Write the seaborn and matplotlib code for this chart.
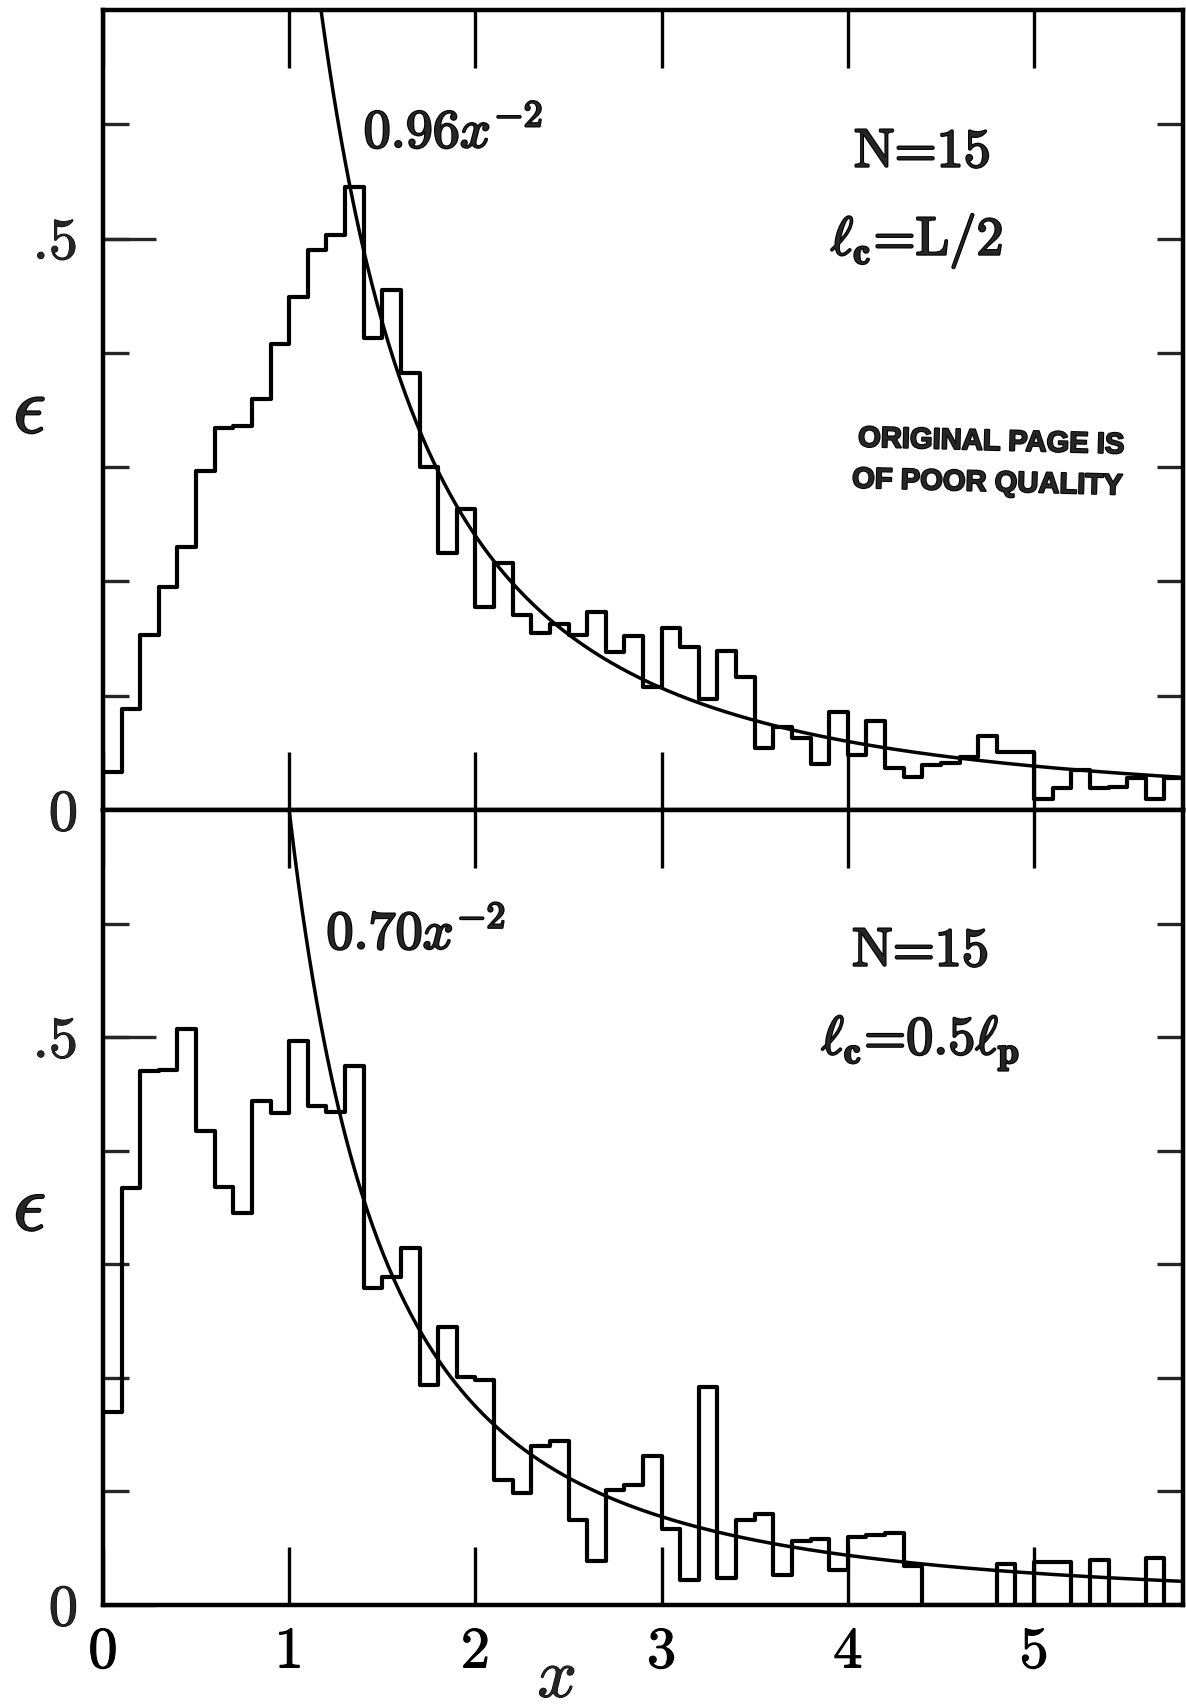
import numpy as np
import pandas as pd
import matplotlib
matplotlib.use("Agg")
import matplotlib.pyplot as plt
import matplotlib.patheffects as pe
import seaborn as sns

# ---------------- data ----------------
bin_width = 0.1
bin_lefts = [round(i * bin_width, 1) for i in range(58)]   # 0.0 ... 5.7

eps_top = [0.033, 0.088, 0.153, 0.195, 0.230, 0.297, 0.334, 0.336, 0.360, 0.408,
           0.449, 0.490, 0.503, 0.545, 0.413, 0.455, 0.382, 0.300, 0.225, 0.263,
           0.178, 0.216, 0.171, 0.155, 0.163, 0.153, 0.173, 0.138, 0.152, 0.108,
           0.159, 0.143, 0.097, 0.139, 0.116, 0.054, 0.073, 0.063, 0.040, 0.086,
           0.048, 0.078, 0.037, 0.029, 0.039, 0.041, 0.046, 0.065, 0.051, 0.051,
           0.010, 0.019, 0.035, 0.019, 0.020, 0.028, 0.010, 0.028]

eps_bottom = [0.170, 0.367, 0.470, 0.471, 0.507, 0.417, 0.368, 0.345, 0.444, 0.433,
              0.497, 0.439, 0.434, 0.475, 0.279, 0.289, 0.314, 0.194, 0.245, 0.201,
              0.198, 0.110, 0.099, 0.140, 0.144, 0.075, 0.039, 0.101, 0.106, 0.131,
              0.067, 0.022, 0.192, 0.024, 0.075, 0.080, 0.026, 0.056, 0.058, 0.031,
              0.060, 0.062, 0.063, 0.034, 0.0, 0.0, 0.0, 0.0, 0.036, 0.0,
              0.038, 0.038, 0.0, 0.040, 0.0, 0.0, 0.041, 0.0]

fit_coef_top = 0.96
fit_coef_bottom = 0.70
fit_power = -2

x_ticks = [0, 1, 2, 3, 4, 5]
x_ticklabels = ["0", "1", "2", "3", "4", "5"]
y_major = [0.0, 0.5]
y_major_labels = ["0", ".5"]
y_minor = [0.1, 0.2, 0.3, 0.4, 0.5, 0.6]

label_top = [r"$0.96x^{-2}$", "N=15", r"$\ell_{\mathbf{c}}$=L/2"]
label_bottom = [r"$0.70x^{-2}$", "N=15", r"$\ell_{\mathbf{c}}$=0.5$\ell_{\mathbf{p}}$"]
stamp = ["ORIGINAL PAGE IS", "OF POOR QUALITY"]

# ---------------- style ----------------
sns.set_style("ticks")
plt.rcParams["font.family"] = ["cmr10", "DejaVu Serif"]
plt.rcParams["mathtext.fontset"] = "cm"
plt.rcParams["axes.unicode_minus"] = False

heavy = [pe.withStroke(linewidth=1.6, foreground="black")]
heavy_small = [pe.withStroke(linewidth=0.8, foreground="black")]
heavy_stamp = [pe.withStroke(linewidth=1.4, foreground="black")]

edges = bin_lefts + [round(bin_lefts[-1] + bin_width, 1)]
centers = [b + bin_width / 2 for b in bin_lefts]
df = pd.DataFrame({"x": centers, "top": eps_top, "bottom": eps_bottom})

fig = plt.figure(figsize=(11.86, 17.08), dpi=100)
ax1 = fig.add_axes([0.0868, 0.52518, 0.9107, 0.46838])
ax2 = fig.add_axes([0.0868, 0.05972, 0.9107, 0.46546])

xs = np.linspace(0.85, 5.8, 500)

for ax, col, coef in [(ax1, "top", fit_coef_top), (ax2, "bottom", fit_coef_bottom)]:
    sns.histplot(data=df, x="x", weights=col, bins=edges, element="step",
                 fill=False, color="black", linewidth=3.0, ax=ax)
    sns.lineplot(x=xs, y=coef * xs ** fit_power, color="black",
                 linewidth=2.5, ax=ax, errorbar=None)
    ax.set_xlim(0, 5.8)
    ax.set_ylim(0, 0.7)
    for s in ax.spines.values():
        s.set_visible(True)
        s.set_linewidth(3.2)
        s.set_color("black")
    ax.set_xticks(x_ticks)
    ax.tick_params(axis="x", which="major", direction="in", length=42, width=2.4,
                   top=True, bottom=True, labelsize=42, pad=16, colors="black")
    ax.yaxis.remove_overlapping_locs = False
    ax.set_yticks(y_major)
    ax.set_yticklabels(y_major_labels)
    ax.set_yticks(y_minor, minor=True)
    ax.tick_params(axis="y", which="major", direction="in", length=38, width=2.4,
                   left=True, right=False, labelsize=42, pad=18)
    ax.tick_params(axis="y", which="minor", direction="in", length=19, width=2.4,
                   left=True, right=True)
    ax.set_ylabel(r"$\epsilon$", rotation=0, fontsize=58, labelpad=0)
    ax.yaxis.label.set_va("center")
    ax.yaxis.label.set_ha("center")
    ax.yaxis.label.set_path_effects(heavy)
    ax.yaxis.set_label_coords(-0.068, 0.496)
    ax.set_xlabel("")
    for t in ax.get_yticklabels() + ax.get_xticklabels():
        t.set_path_effects(heavy_small)

ax1.set_xticklabels([])
ax2.set_xticklabels(x_ticklabels)
for t in ax2.get_xticklabels():
    t.set_path_effects(heavy_small)
ax2.set_xlabel(r"$x$", fontsize=50)
ax2.xaxis.label.set_va("baseline")
ax2.xaxis.label.set_path_effects(heavy_small)
ax2.xaxis.set_label_coords(0.42, -0.116)

# annotations
ax1.text(1.40, 0.58, label_top[0], fontsize=39, ha="left", va="baseline",
         path_effects=heavy)
ax1.text(4.40, 0.563, label_top[1], fontsize=39, ha="center", va="baseline",
         path_effects=heavy)
ax1.text(4.37, 0.486, label_top[2], fontsize=39, ha="center", va="baseline",
         path_effects=heavy)
ax1.text(4.77, 0.312, stamp[0], fontsize=21, ha="center", va="baseline",
         family="Liberation Sans", weight="bold", rotation=-1.5,
         path_effects=heavy_stamp)
ax1.text(4.75, 0.276, stamp[1], fontsize=21, ha="center", va="baseline",
         family="Liberation Sans", weight="bold", rotation=-1.5,
         path_effects=heavy_stamp)

ax2.text(1.20, 0.578, label_bottom[0], fontsize=39, ha="left", va="baseline",
         path_effects=heavy)
ax2.text(4.39, 0.563, label_bottom[1], fontsize=39, ha="center", va="baseline",
         path_effects=heavy)
ax2.text(4.39, 0.485, label_bottom[2], fontsize=39, ha="center", va="baseline",
         path_effects=heavy)

fig.savefig("out.png", dpi=100, facecolor="white")
